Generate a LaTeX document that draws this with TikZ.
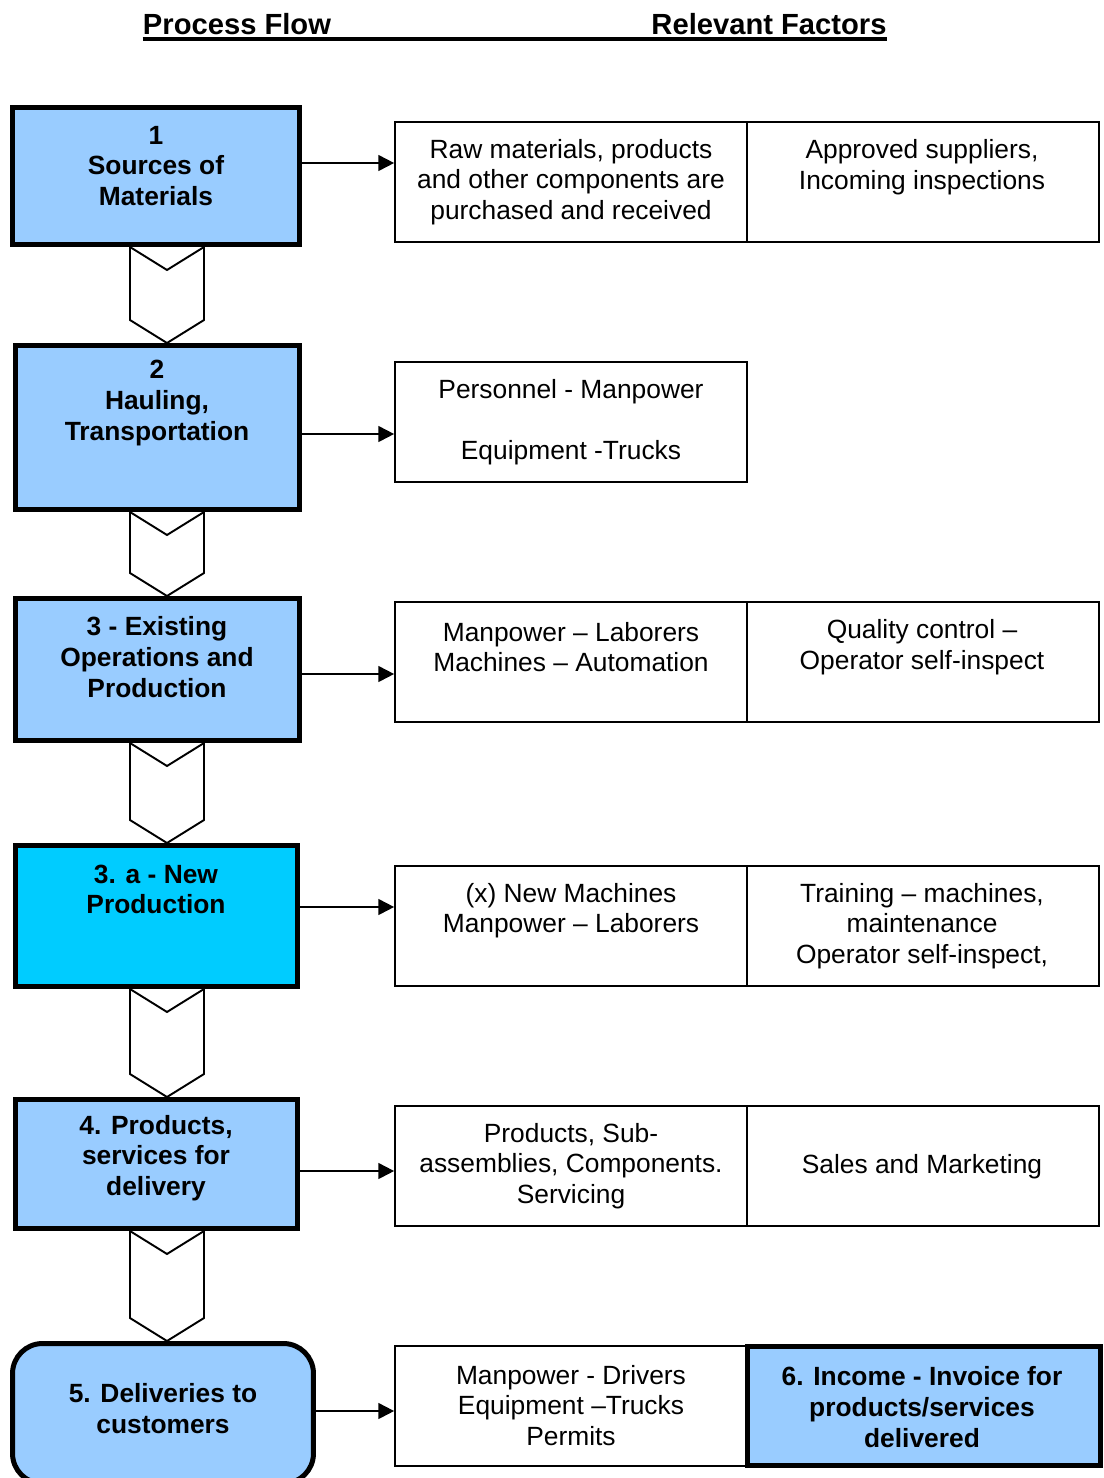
\documentclass[tikz,border=0pt]{standalone}
\usepackage{fontspec}
\setmainfont{Liberation Sans}
\usetikzlibrary{arrows.meta}
\definecolor{stageblue}{HTML}{99CCFF}
\definecolor{newcyan}{HTML}{00CCFF}

\begin{document}
\begin{tikzpicture}[
    x=0.02cm, y=-0.02cm,
    stage/.style={rectangle, draw, line width=2.85pt, fill=stageblue, inner sep=0pt},
    stagetext/.style={font=\fontsize{15}{17.4}\selectfont\bfseries, align=center, inner sep=0pt},
    cell/.style={rectangle, draw, line width=1pt, minimum width=7.04cm, minimum height=2.4cm, inner sep=0pt},
    celltext/.style={font=\fontsize{15}{17.4}\selectfont, align=center, inner sep=0pt},
    hdr/.style={font=\fontsize{16.6}{20}\selectfont\bfseries, inner sep=0pt, anchor=base},
    flow/.style={line width=1.1pt, -{Triangle[length=9pt,width=9pt]}},
    chev/.style={line width=1.1pt, fill=white, line join=miter}
]
    \useasboundingbox (0,0) rectangle (1104,1478);

    % Headings
    \node[hdr] (pf) at (237,34) {Process Flow};
    \node[hdr] (rf) at (769,34) {Relevant Factors};
    \draw[line width=2.2pt] (pf.west |- 0,39) -- (rf.east |- 0,39);

    % Process flow stages
    \node[stage, minimum width=5.74cm, minimum height=2.74cm] (s1) at (156,176) {};
    \node[stage, minimum width=5.68cm, minimum height=3.28cm] (s2) at (157.5,427.5) {};
    \node[stage, minimum width=5.68cm, minimum height=2.84cm] (s3) at (157.5,669.5) {};
    \node[stage, fill=newcyan, minimum width=5.64cm, minimum height=2.82cm] (s3a) at (156.5,916) {};
    \node[stage, minimum width=5.64cm, minimum height=2.58cm] (s4) at (156.5,1164) {};
    \node[stage, rounded corners=0.6cm, minimum width=6.02cm, minimum height=2.8cm] (s5) at (163,1413.5) {};

    \node[stagetext] (t1) at (156,166) {1\\Sources of\\Materials};
    \node[stagetext] (t2) at (157,403) {2\\Hauling,\\Transportation};
    \node[stagetext] (t3) at (157,657) {3 - Existing\\Operations and\\Production};
    \node[stagetext] (t3a) at (156,889.5) {3. a - New\\Production};
    \node[stagetext] (t4) at (156,1158) {4. Products,\\services for\\delivery};
    \node[stagetext] (t5) at (163,1408.5) {5. Deliveries to\\customers};

    % Chevrons between stages
    \foreach \a/\b in {s1/s2, s2/s3, s3/s3a, s3a/s4, s4/s5} {
        \draw[chev] (130,0 |- \a.south) -- ([yshift=0.46cm]130,0 |- \b.north)
            -- (167,0 |- \b.north) -- ([yshift=0.46cm]204,0 |- \b.north)
            -- (204,0 |- \a.south) -- ([yshift=-0.46cm]167,0 |- \a.south) -- cycle;
    }

    % Relevant factors
    \node[cell] (c1a) at (571,182) {};
    \node[cell] (c1b) at (923,182) {};
    \node[cell] (c2a) at (571,422) {};
    \node[cell] (c3a) at (571,662) {};
    \node[cell] (c3b) at (923,662) {};
    \node[cell] (c4a) at (571,926) {};
    \node[cell] (c4b) at (923,926) {};
    \node[cell] (c5a) at (571,1166) {};
    \node[cell] (c5b) at (923,1166) {};
    \node[cell] (c6a) at (571,1406) {};
    \node[cell, line width=2.85pt, fill=stageblue, minimum width=7.06cm, minimum height=2.38cm] (c6b) at (924,1406) {};

    \node[celltext] (f1a) at (571,182) {Raw materials, products\\and other components are\\purchased and received};
    \node[celltext] (f1b) at (922,167) {Approved suppliers,\\Incoming inspections};
    \node[celltext] (f2a) at (571,422) {Personnel - Manpower\\[17.4pt]Equipment -Trucks};
    \node[celltext] (f3a) at (571,647) {Manpower – Laborers\\Machines – Automation};
    \node[celltext] (f3b) at (922,647) {Quality control –\\Operator self-inspect};
    \node[celltext] (f4a) at (571,910.5) {(x) New Machines\\Manpower – Laborers};
    \node[celltext] (f4b) at (922,926) {Training – machines,\\maintenance\\Operator self-inspect,};
    \node[celltext] (f5a) at (571,1166) {Products, Sub-\\assemblies, Components.\\Servicing};
    \node[celltext] (f5b) at (922,1166.5) {Sales and Marketing};
    \node[celltext] (f6a) at (571,1405.5) {Manpower - Drivers\\Equipment –Trucks\\Permits};
    \node[stagetext] (f6b) at (922,1407) {6. Income - Invoice for\\products/services\\delivered};

    % Arrows to factors
    \foreach \s/\c/\y in {s1/c1a/163, s2/c2a/434, s3/c3a/674, s3a/c4a/907, s4/c5a/1171, s5/c6a/1411} {
        \draw[flow] (\s.east |- 0,\y) -- (\c.west |- 0,\y);
    }

\end{tikzpicture}
\end{document}
